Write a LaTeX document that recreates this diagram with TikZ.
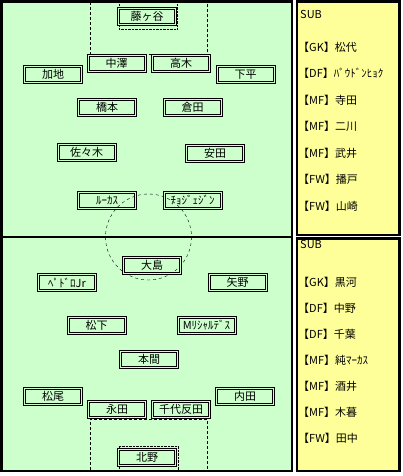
\documentclass[tikz,border=0pt]{standalone}
\usepackage{fontspec}
\setmainfont{Noto Sans CJK JP}
\definecolor{fieldgreen}{RGB}{204,255,204}
\definecolor{subyellow}{RGB}{255,255,153}
\begin{document}
\begin{tikzpicture}[x=1pt,y=-1pt,
	every node/.style={font=\fontsize{11}{11}\selectfont},
	player/.style={draw,double=fieldgreen,line width=1pt,double distance=1pt,
		minimum width=57,minimum height=16,inner sep=0pt},
	subline/.style={anchor=west,inner sep=0pt},
	panel/.style={line width=2.5pt}]
	
	\useasboundingbox (0,0) rectangle (402,476);
	
	% field and bench panels
	\draw[panel,fill=fieldgreen] (1.5,1.5) rectangle (292,471);
	\draw[panel] (1.5,237) -- (292,237);
	\draw[panel,fill=subyellow] (297,1.5) rectangle (399.5,235);
	\draw[panel,fill=subyellow] (297,238.5) rectangle (399.5,471);
	
	% penalty and goal areas
	\draw[densely dashed] (90,2.5) -- (90,54) -- (207,54) -- (207,2.5);
	\draw[densely dotted] (119,2.5) -- (119,29) -- (177,29) -- (177,2.5);
	\draw[densely dashed] (90,470) -- (90,419) -- (207,419) -- (207,470);
	\draw[densely dotted] (119,470) -- (119,446) -- (178,446) -- (178,470);
	\draw[dashed] (148.5,237) circle[radius=43];
	
	% top team
	\node[player] (fujigaya)  at (147,16.5)  {藤ヶ谷};
	\node[player] (nakazawa)  at (116.5,63.5) {中澤};
	\node[player] (takagi)    at (181,63.5)  {高木};
	\node[player] (kaji)      at (53,74.5)   {加地};
	\node[player] (shimodaira) at (245.5,74.5) {下平};
	\node[player] (hashimoto) at (107,107.5) {橋本};
	\node[player] (kurata)    at (192.5,107.5) {倉田};
	\node[player] (sasaki)    at (86.5,152.5) {佐々木};
	\node[player] (yasuda)    at (215,153.5) {安田};
	\node[player] (lucas)     at (107,200.5) {ﾙｰｶｽ};
	\node[player] (chojaejin) at (192.5,200.5) {ﾁｮｼﾞｪｼﾞﾝ};
	
	% bottom team
	\node[player] (oshima)    at (152,265)   {大島};
	\node[player] (pedrojr)   at (67,282.5)  {ﾍﾟﾄﾞﾛJr};
	\node[player] (yano)      at (237.5,282.5) {矢野};
	\node[player] (matsushita) at (96.5,325) {松下};
	\node[player] (richardes) at (206.5,325) {Mﾘｼｬﾙﾃﾞｽ};
	\node[player] (honma)     at (149,359.5) {本間};
	\node[player] (matsuo)    at (53,396.5)  {松尾};
	\node[player] (uchida)    at (245,396.5) {内田};
	\node[player] (nagata)    at (117,409)   {永田};
	\node[player] (chiyotanda) at (181,409)  {千代反田};
	\node[player] (kitano)    at (147,457)   {北野};
	
	% top bench
	\node[subline] (subtop) at (300,14)  {SUB};
	\node[subline] (subtopa) at (298,47)  {【GK】松代};
	\node[subline] (subtopb) at (298,73.5) {【DF】ﾊﾟｳﾄﾞﾝﾋｮｸ};
	\node[subline] (subtopc) at (298,100) {【MF】寺田};
	\node[subline] (subtopd) at (298,126.5) {【MF】二川};
	\node[subline] (subtope) at (298,153) {【MF】武井};
	\node[subline] (subtopf) at (298,179.5) {【FW】播戸};
	\node[subline] (subtopg) at (298,206) {【FW】山崎};
	
	% bottom bench
	\node[subline] (subbot) at (300,244) {SUB};
	\node[subline] (subbota) at (298,282) {【GK】黒河};
	\node[subline] (subbotb) at (298,308) {【DF】中野};
	\node[subline] (subbotc) at (298,334) {【DF】千葉};
	\node[subline] (subbotd) at (298,360) {【MF】純ﾏｰｶｽ};
	\node[subline] (subbote) at (298,386) {【MF】酒井};
	\node[subline] (subbotf) at (298,412) {【MF】木暮};
	\node[subline] (subbotg) at (298,438) {【FW】田中};
	
\end{tikzpicture}
\end{document}
